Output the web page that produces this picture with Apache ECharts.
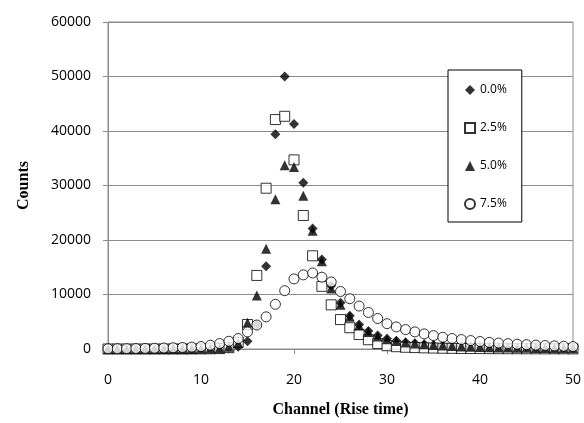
<!DOCTYPE html>
<html>
<head>
<meta charset="utf-8">
<script src="https://cdn.jsdelivr.net/npm/echarts@6/dist/echarts.min.js"></script>
<style>
html,body{margin:0;padding:0;background:#fff;}
#chart{width:584px;height:423px;}
</style>
</head>
<body>
<div id="chart"></div>
<script>
// Channel numbers 0..50
const channels = [0,1,2,3,4,5,6,7,8,9,10,11,12,13,14,15,16,17,18,19,20,21,22,23,24,25,26,27,28,29,30,31,32,33,34,35,36,37,38,39,40,41,42,43,44,45,46,47,48,49,50];

const seriesNames = ['0.0%', '2.5%', '5.0%', '7.5%'];

// Counts for 0.0%
const counts00 = [0,0,0,0,0,0,0,0,0,0,10,20,40,100,400,1400,4400,15200,39400,50000,41300,30500,22100,16400,11600,8500,6100,4500,3300,2500,1900,1500,1250,1050,880,740,630,540,470,410,360,310,270,240,210,180,160,140,120,110,100];
// Counts for 2.5%
const counts25 = [0,0,0,0,0,0,0,0,0,10,20,40,80,250,1200,4500,13500,29500,42100,42700,34700,24500,17100,11500,8100,5400,3900,2650,1700,1000,600,420,320,260,210,170,140,120,100,90,80,70,60,50,50,40,40,30,30,30,20];
// Counts for 5.0%
const counts50 = [0,0,0,0,0,0,0,0,10,20,40,80,150,400,1100,4800,9800,18400,27500,33700,33400,28100,21700,16100,11100,8100,5900,4300,3100,2300,1800,1450,1200,1000,850,720,620,540,470,410,360,320,290,260,230,210,190,170,160,150,140];
// Counts for 7.5%
const counts75 = [50,60,70,90,110,140,180,230,280,350,450,700,1000,1420,1920,3140,4400,5900,8200,10700,12860,13600,13950,13180,12300,10550,9220,7880,6700,5600,4650,4050,3560,3140,2770,2460,2150,1920,1730,1550,1370,1220,1090,980,880,790,710,640,570,510,450];

const xTicks = [0,10,20,30,40,50];
const yTicks = [0,10000,20000,30000,40000,50000,60000];

function pairs(vals){ return channels.map((c,i)=>[c, vals[i]]); }

const chart = echarts.init(document.getElementById('chart'), null, {renderer:'canvas'});
const gridColor = '#8c8c8c';
const labelFont = 'Open Sans';

chart.setOption({
  animation: false,
  backgroundColor: '#fff',
  grid: {left:108, right:7, top:22, bottom:73, show:true, borderColor:gridColor, borderWidth:1},
  legend: {
    orient:'vertical', left:448, top:70,
    padding:[14,15,12,16], itemGap:26, itemWidth:10, itemHeight:10,
    backgroundColor:'#fff', borderColor:'#000', borderWidth:1,
    textStyle:{fontFamily:labelFont, fontSize:12, color:'#000'},
    data: seriesNames
  },
  xAxis: {
    type:'value', min:xTicks[0], max:xTicks[xTicks.length-1], interval:10,
    name:'Channel (Rise time)', nameLocation:'middle', nameGap:53,
    nameTextStyle:{fontFamily:'Liberation Serif', fontWeight:'bold', fontSize:16, color:'#000'},
    axisLine:{show:true, lineStyle:{color:gridColor}},
    axisTick:{show:true, length:5, lineStyle:{color:gridColor}},
    axisLabel:{margin:24, fontFamily:labelFont, fontSize:14, color:'#000'},
    splitLine:{show:false}
  },
  yAxis: {
    type:'value', min:yTicks[0], max:yTicks[yTicks.length-1], interval:10000,
    name:'Counts', nameLocation:'middle', nameGap:76,
    nameTextStyle:{fontFamily:'Liberation Serif', fontWeight:'bold', fontSize:16, color:'#000'},
    axisLine:{show:true, lineStyle:{color:gridColor}},
    axisTick:{show:true, length:5, lineStyle:{color:gridColor}},
    axisLabel:{margin:17, fontFamily:labelFont, fontSize:14, color:'#000', formatter:(v)=>String(v)},
    splitLine:{show:true, lineStyle:{color:gridColor}}
  },
  series: [
    {name:seriesNames[0], type:'scatter', symbol:'diamond', symbolSize:[10,10],
     itemStyle:{color:'#000'}, data:pairs(counts00)},
    {name:seriesNames[1], type:'scatter', symbol:'rect', symbolSize:10,
     itemStyle:{color:'#fff', borderColor:'#000', borderWidth:1}, data:pairs(counts25)},
    {name:seriesNames[2], type:'scatter', symbol:'triangle', symbolSize:[10,10],
     itemStyle:{color:'#000'}, data:pairs(counts50)},
    {name:seriesNames[3], type:'scatter', symbol:'circle', symbolSize:10,
     itemStyle:{color:'#fff', borderColor:'#000', borderWidth:1}, data:pairs(counts75)}
  ]
});
</script>
</body>
</html>
